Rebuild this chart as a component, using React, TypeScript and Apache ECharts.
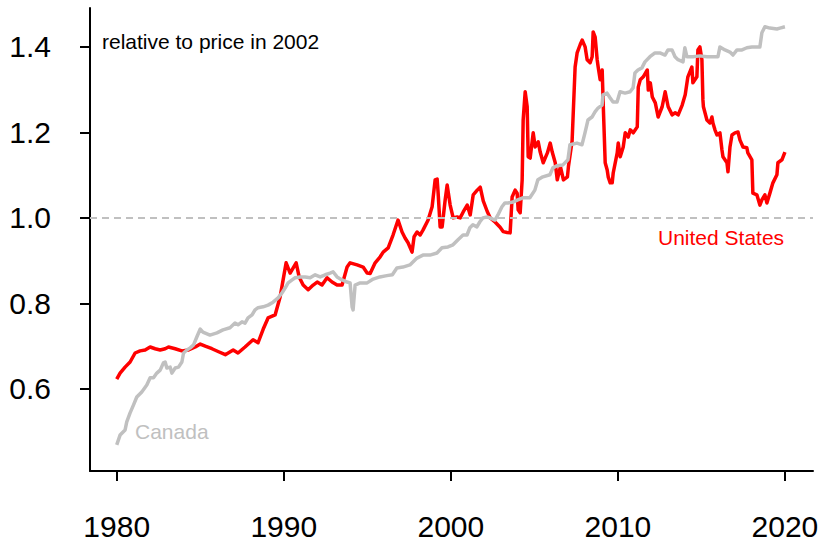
import React, { useEffect, useRef } from "react";
import * as echarts from "echarts";

const xTicks = [1980, 1990, 2000, 2010, 2020];
const yTicks = [0.6, 0.8, 1.0, 1.2, 1.4];

const usYears = [
  1980.0, 1980.2, 1980.5, 1980.8, 1981.1, 1981.4, 1981.7, 1982.0, 1982.3, 1982.6, 1982.9, 1983.1, 1983.5, 1983.9,
  1984.3, 1984.7, 1985.0, 1985.3, 1985.7, 1986.1, 1986.5, 1986.97, 1987.26, 1987.68, 1988.16, 1988.46, 1988.77,
  1989.06, 1989.48, 1989.78, 1989.96, 1990.14, 1990.38, 1990.74, 1990.92, 1991.16, 1991.46, 1991.76, 1992.0,
  1992.29, 1992.59, 1992.89, 1993.19, 1993.49, 1993.79, 1993.97, 1994.39, 1994.75, 1994.99, 1995.17, 1995.47,
  1995.77, 1995.95, 1996.25, 1996.54, 1996.84, 1997.08, 1997.26, 1997.44, 1997.68, 1997.8, 1997.98, 1998.16,
  1998.34, 1998.64, 1998.88, 1999.06, 1999.18, 1999.24, 1999.36, 1999.48, 1999.66, 1999.78, 1999.96, 2000.14,
  2000.38, 2000.56, 2000.74, 2000.98, 2001.16, 2001.34, 2001.58, 2001.76, 2001.94, 2002.18, 2002.36, 2002.66,
  2002.95, 2003.13, 2003.37, 2003.55, 2003.67, 2003.85, 2003.97, 2004.03, 2004.15, 2004.27, 2004.33, 2004.45,
  2004.57, 2004.63, 2004.75, 2004.93, 2005.05, 2005.23, 2005.35, 2005.53, 2005.78, 2005.95, 2006.07, 2006.25,
  2006.37, 2006.56, 2006.74, 2006.98, 2007.04, 2007.26, 2007.44, 2007.56, 2007.74, 2007.86, 2008.04, 2008.16,
  2008.34, 2008.46, 2008.52, 2008.64, 2008.76, 2008.82, 2008.94, 2009.06, 2009.12, 2009.24, 2009.36, 2009.42,
  2009.54, 2009.66, 2009.72, 2009.96, 2010.02, 2010.14, 2010.32, 2010.44, 2010.62, 2010.74, 2010.92, 2011.16,
  2011.22, 2011.34, 2011.52, 2011.76, 2011.82, 2011.94, 2012.06, 2012.24, 2012.41, 2012.65, 2012.83, 2013.01,
  2013.25, 2013.43, 2013.61, 2013.85, 2014.03, 2014.19, 2014.43, 2014.49, 2014.73, 2014.79, 2014.91, 2015.03,
  2015.09, 2015.12, 2015.33, 2015.51, 2015.63, 2015.69, 2015.81, 2015.93, 2016.11, 2016.23, 2016.29, 2016.53,
  2016.59, 2016.71, 2016.83, 2017.01, 2017.19, 2017.31, 2017.49, 2017.72, 2017.78, 2018.02, 2018.08, 2018.32,
  2018.5, 2018.62, 2018.8, 2018.92, 2019.1, 2019.28, 2019.52, 2019.58, 2019.82, 2020.0,
];
const usValues = [
  0.623, 0.637, 0.651, 0.663, 0.684, 0.689, 0.691, 0.698, 0.694, 0.691, 0.694, 0.698, 0.694, 0.689,
  0.691, 0.698, 0.705, 0.7, 0.694, 0.687, 0.68, 0.691, 0.684, 0.698, 0.715, 0.708, 0.74,
  0.766, 0.773, 0.815, 0.855, 0.895, 0.871, 0.895, 0.862, 0.843, 0.832, 0.843, 0.85,
  0.843, 0.86, 0.85, 0.843, 0.843, 0.885, 0.895, 0.89, 0.885, 0.871, 0.87, 0.895,
  0.909, 0.92, 0.93, 0.96, 0.995, 0.967, 0.953, 0.942, 0.92, 0.956, 0.967, 0.96,
  0.972, 0.995, 1.026, 1.089, 1.091, 1.058, 0.979, 0.979, 1.042, 1.077, 1.03, 1.0,
  1.002, 1.0, 1.014, 1.03, 1.007, 1.054, 1.065, 1.072, 1.04, 1.015, 1.0, 0.99,
  0.978, 0.968, 0.966, 0.965, 1.049, 1.065, 1.058, 1.019, 1.012, 1.089, 1.229, 1.295,
  1.26, 1.143, 1.14, 1.199, 1.166, 1.178, 1.154, 1.129, 1.152, 1.175, 1.154, 1.129,
  1.089, 1.12, 1.089, 1.096, 1.12, 1.18, 1.353, 1.386, 1.405, 1.416, 1.4, 1.37,
  1.363, 1.377, 1.435, 1.423, 1.37, 1.353, 1.323, 1.346, 1.269, 1.129, 1.112, 1.096,
  1.082, 1.082, 1.105, 1.152, 1.175, 1.143, 1.166, 1.199, 1.189, 1.206, 1.199, 1.213,
  1.306, 1.323, 1.33, 1.346, 1.299, 1.316, 1.283, 1.269, 1.236, 1.26, 1.295, 1.26,
  1.241, 1.246, 1.241, 1.264, 1.288, 1.33, 1.353, 1.316, 1.33, 1.393, 1.4, 1.37,
  1.276, 1.26, 1.229, 1.222, 1.236, 1.222, 1.206, 1.194, 1.199, 1.159, 1.143, 1.129,
  1.108, 1.166, 1.194, 1.199, 1.201, 1.182, 1.166, 1.164, 1.152, 1.136, 1.058, 1.054,
  1.03, 1.042, 1.054, 1.035, 1.058, 1.082, 1.101, 1.129, 1.136, 1.154,
];

const caYears = [
  1980.0, 1980.2, 1980.5, 1980.6, 1980.8, 1981.0, 1981.2, 1981.5, 1981.8, 1982.0, 1982.2, 1982.4, 1982.6, 1982.8,
  1982.9, 1983.0, 1983.2, 1983.3, 1983.5, 1983.7, 1983.9, 1984.0, 1984.2, 1984.4, 1984.6, 1984.8, 1985.0, 1985.16,
  1985.58, 1986.0, 1986.36, 1986.78, 1987.08, 1987.26, 1987.5, 1987.68, 1987.86, 1988.1, 1988.28, 1988.46, 1988.76,
  1989.06, 1989.36, 1989.66, 1989.9, 1990.08, 1990.26, 1990.5, 1990.68, 1990.98, 1991.28, 1991.58, 1991.88, 1992.18,
  1992.48, 1992.77, 1992.95, 1993.19, 1993.49, 1993.79, 1993.97, 1994.09, 1994.15, 1994.27, 1994.57, 1994.99,
  1995.35, 1995.75, 1996.17, 1996.5, 1996.77, 1997.13, 1997.55, 1997.97, 1998.33, 1998.75, 1999.17, 1999.47,
  1999.83, 2000.13, 2000.43, 2000.73, 2000.97, 2001.14, 2001.32, 2001.56, 2001.74, 2001.92, 2002.16, 2002.34,
  2002.64, 2002.82, 2003.06, 2003.24, 2003.42, 2003.72, 2004.01, 2004.31, 2004.73, 2005.03, 2005.21, 2005.51,
  2005.93, 2006.11, 2006.35, 2006.71, 2007.01, 2007.13, 2007.55, 2007.85, 2008.03, 2008.21, 2008.45, 2008.63,
  2008.81, 2009.05, 2009.11, 2009.35, 2009.53, 2009.71, 2009.95, 2010.13, 2010.43, 2010.73, 2010.91, 2011.02,
  2011.2, 2011.44, 2011.62, 2011.92, 2012.22, 2012.52, 2012.82, 2013.0, 2013.24, 2013.42, 2013.6, 2013.9,
  2014.01, 2014.13, 2014.49, 2014.91, 2015.33, 2015.69, 2015.99, 2016.11, 2016.41, 2016.71, 2016.89, 2017.13,
  2017.43, 2017.72, 2018.02, 2018.32, 2018.5, 2018.62, 2018.8, 2019.1, 2019.52, 2019.7, 2020.0,
];
const caValues = [
  0.469, 0.492, 0.504, 0.523, 0.544, 0.562, 0.581, 0.593, 0.609, 0.626, 0.626, 0.637, 0.644, 0.661,
  0.663, 0.649, 0.651, 0.637, 0.649, 0.651, 0.663, 0.684, 0.691, 0.696, 0.703, 0.722, 0.74, 0.733,
  0.726, 0.731, 0.738, 0.743, 0.754, 0.75, 0.757, 0.754, 0.766, 0.773, 0.785, 0.79, 0.792,
  0.796, 0.803, 0.813, 0.825, 0.836, 0.848, 0.855, 0.86, 0.862, 0.862, 0.86, 0.867, 0.862,
  0.867, 0.871, 0.874, 0.862, 0.855, 0.85, 0.848, 0.792, 0.785, 0.843, 0.848, 0.848,
  0.857, 0.862, 0.865, 0.867, 0.883, 0.885, 0.89, 0.906, 0.913, 0.913, 0.918, 0.93,
  0.932, 0.937, 0.949, 0.96, 0.96, 0.977, 0.984, 0.979, 0.991, 1.0, 1.002, 1.0,
  0.995, 1.007, 1.026, 1.035, 1.035, 1.037, 1.042, 1.047, 1.047, 1.065, 1.089, 1.096,
  1.101, 1.117, 1.122, 1.124, 1.136, 1.171, 1.175, 1.171, 1.199, 1.229, 1.236, 1.248,
  1.257, 1.264, 1.288, 1.292, 1.281, 1.271, 1.271, 1.295, 1.292, 1.295, 1.304, 1.339,
  1.346, 1.351, 1.365, 1.377, 1.386, 1.386, 1.381, 1.393, 1.393, 1.377, 1.37, 1.365,
  1.398, 1.377, 1.377, 1.379, 1.377, 1.377, 1.377, 1.4, 1.393, 1.388, 1.381, 1.393,
  1.393, 1.398, 1.4, 1.4, 1.4, 1.433, 1.447, 1.444, 1.442, 1.444, 1.447,
];

const FONT = "'Liberation Sans', Arial, Helvetica, sans-serif";

export default function App() {
  const ref = useRef<HTMLDivElement>(null);
  useEffect(() => {
    if (!ref.current) return;
    const chart = echarts.init(ref.current, undefined, { renderer: "svg" });
    const us = usYears.map((y, i) => [y, usValues[i]]);
    const ca = caYears.map((y, i) => [y, caValues[i]]);
    chart.setOption({
      animation: false,
      backgroundColor: "#ffffff",
      grid: { left: 90, right: 9, top: 8, bottom: 73, containLabel: false },
      xAxis: {
        type: "value",
        min: 1978.4,
        max: 2021.68,
        axisLine: { show: true, lineStyle: { color: "#000", width: 2 } },
        axisTick: { show: true, length: 10, lineStyle: { color: "#000", width: 2 }, customValues: xTicks },
        axisLabel: {
          customValues: xTicks,
          fontSize: 30,
          color: "#000",
          margin: 40,
          fontFamily: FONT,
          formatter: (v: number) => String(Math.round(v)),
        },
        splitLine: { show: false },
      },
      yAxis: {
        type: "value",
        min: 0.408,
        max: 1.491,
        axisLine: { show: true, lineStyle: { color: "#000", width: 2 } },
        axisTick: { show: true, length: 10, lineStyle: { color: "#000", width: 2 }, customValues: yTicks },
        axisLabel: {
          customValues: yTicks,
          fontSize: 30,
          color: "#000",
          margin: 39,
          fontFamily: FONT,
          formatter: (v: number) => v.toFixed(1),
        },
        splitLine: { show: false },
      },
      series: [
        {
          name: "United States",
          type: "line",
          data: us,
          showSymbol: false,
          lineStyle: { color: "#ff0000", width: 3.5, join: "round" },
          markLine: {
            silent: true,
            symbol: "none",
            label: { show: false },
            lineStyle: { color: "#c0c0c0", width: 2, type: [7, 5] },
            data: [{ yAxis: 1.0 }],
          },
          z: 2,
        },
        {
          name: "Canada",
          type: "line",
          data: ca,
          showSymbol: false,
          lineStyle: { color: "#c0c0c0", width: 3.5, join: "round" },
          z: 3,
        },
      ],
      graphic: [
        {
          type: "text",
          left: 102,
          top: 31,
          style: { text: "relative to price in 2002", fontSize: 21, fill: "#000", fontFamily: FONT },
        },
        {
          type: "text",
          left: 135,
          top: 421,
          style: { text: "Canada", fontSize: 21, fill: "#c0c0c0", fontFamily: FONT },
        },
        {
          type: "text",
          left: 658,
          top: 227,
          style: { text: "United States", fontSize: 21, fill: "#ff0000", fontFamily: FONT },
        },
      ],
    });
    return () => chart.dispose();
  }, []);
  return (
    <div
      ref={ref}
      style={{ position: "absolute", left: 0, top: 0, width: 822, height: 544, background: "#fff" }}
    />
  );
}
